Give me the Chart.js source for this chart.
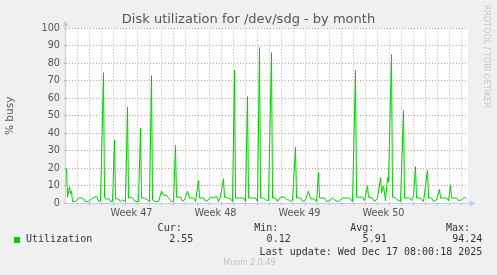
<!DOCTYPE html>
<html>
<head>
<meta charset="utf-8">
<script src="https://cdn.jsdelivr.net/npm/chart.js@4"></script>
<style>
  html, body { margin:0; padding:0; background:#f0f0f0; }
  #wrap { position:relative; width:497px; height:275px; overflow:hidden; background:#f0f0f0; }
  canvas { position:absolute; left:0; top:0; }
  .t { position:absolute; white-space:nowrap; }
  .mono { font-family:"DejaVu Sans Mono", monospace; font-size:10px; line-height:12px; color:#333; }
  .r { text-align:right; }
</style>
</head>
<body>
<div id="wrap">
  <canvas id="c" width="497" height="275"></canvas>
  <div class="t" id="title" style="left:0;width:497px;top:11px;text-align:center;font-family:'DejaVu Sans';font-size:13px;line-height:16px;color:#555;">Disk utilization for /dev/sdg - by month</div>
  <div class="t" style="left:481px;top:5px;writing-mode:vertical-rl;font-family:'DejaVu Sans';font-size:8px;line-height:10px;color:#c8c8c8;">RRDTOOL / TOBI OETIKER</div>
  <div id="legend"></div>
  <div class="t" style="left:0;width:497px;top:258px;text-align:center;font-family:'DejaVu Sans';font-size:8px;line-height:10px;color:#c0c0c0;padding-left:1px;">Munin 2.0.49</div>
</div>
<script>
// ---- data ----
const seriesName = "Utilization";
const hours = [-22,-20,-16,-14,-12,-10,-4,2,8,12,16,22,28,34,38,42,46,52,54,58,62,66,70,74,76,82,86,90,96,100,102,108,116,122,126,128,134,144,148,150,156,162,168,172,178,182,188,192,196,198,206,210,214,220,224,232,236,242,244,252,256,262,266,272,278,282,286,292,294,300,306,310,314,316,324,332,336,340,342,348,356,360,364,366,372,376,382,388,390,396,400,406,414,418,422,426,430,436,438,446,450,456,462,466,474,478,482,484,494,498,504,510,514,520,524,530,540,544,550,556,558,570,574,580,582,590,594,600,606,608,612,616,620,622,628,630,636,640,646,652,654,664,668,672,676,678,686,692,700,702,708,712,718,724,726,738,742,746,748,758,762,768,774,778];
const busy = [20,3.5,9.5,5.5,7,1,1,3,3,2.5,1,1,2.5,3.5,4,1,1.2,74.6,3.5,2,3,1,1,36,2.5,2.5,1,2,1,55,3,3.5,1,1,43,3,3,1,73,2,1,1,7,4.5,4.5,3,1,1,33,3.5,3.5,1,2,7,3,3,1,13,3,3,1,2,3.5,3,4,1,4,14,3.5,3,2.5,1,76,3,3,3,1,61,3,3,3,1,89,3,3,2,1.5,86,3,3,1,3.5,3.5,2,2,1,1.5,32,3,3,1,2,7,2.5,2.5,1,17.5,3,3,1,1.5,3,2,1,1.5,3,3,3,1,76,3.5,3.5,1.5,10,3.5,3,1,3,14.6,6,10,1.5,14.6,12,85,3.5,3,2,1,53,3,3,1.5,4.5,21,3,3,1,19,3,3,1,2,8,3,3,1.5,10.5,3,3,1.5,2,3.5,2.55];
const dayLines = [0,24,48,72,96,120,144,168,192,216,240,264,288,312,336,360,384,408,432,456,480,504,528,552,576,600,624,648,672,696,720,744,768];
const weekLines = [24,192,360,528,696];
const weekLabels = ["Week 47","Week 48","Week 49","Week 50"];
const weekCenters = [108,276,444,612];
const yTicks = [0,5,10,15,20,25,30,35,40,45,50,55,60,65,70,75,80,85,90,95,100];
const statHeads = ["Cur:","Min:","Avg:","Max:"];
const statVals = ["2.55","0.12","5.91","94.24"];
const lastUpdate = "Last update: Wed Dec 17 08:00:18 2025";

// ---- legend block (HTML text) ----
(function(){
  const lg = document.getElementById('legend');
  const headRight = [181.7, 278.3, 374.3, 470];
  const valRight = [193.3, 290.7, 386.7, 482.3];
  let h = '';
  h += '<div class="t" style="left:14px;top:237px;width:6px;height:6px;background:#00cc00;"></div>';
  h += '<div class="t mono" style="left:26px;top:233px;">' + seriesName + '</div>';
  statHeads.forEach((s,i)=>{ h += '<div class="t mono r" style="right:'+(497-headRight[i])+'px;top:221.5px;">'+s+'</div>'; });
  statVals.forEach((s,i)=>{ h += '<div class="t mono r" style="right:'+(497-valRight[i])+'px;top:233px;">'+s+'</div>'; });
  h += '<div class="t mono r" style="right:'+(497-482.3)+'px;top:245.5px;">'+lastUpdate+'</div>';
  lg.innerHTML = h;
})();

const RED = 'rgba(222,130,130,0.85)';
const GREY = 'rgba(175,175,175,0.9)';
const AXIS = '#c6c6ee';

const bgPlugin = {
  id:'bg',
  beforeDraw(chart){
    const {ctx, chartArea:a} = chart;
    ctx.save(); ctx.fillStyle = '#ffffff';
    ctx.fillRect(a.left, a.top, a.right-a.left, a.bottom-a.top);
    ctx.restore();
  },
  afterDraw(chart){
    const {ctx, chartArea:a} = chart;
    ctx.save();
    ctx.strokeStyle = AXIS; ctx.fillStyle = AXIS; ctx.lineWidth = 1;
    const x0 = Math.round(a.left)-0.5, y0 = Math.round(a.bottom)+0.5;
    ctx.beginPath(); ctx.moveTo(x0, y0); ctx.lineTo(x0, a.top-4); ctx.stroke();
    ctx.beginPath(); ctx.moveTo(x0, y0); ctx.lineTo(a.right+3, y0); ctx.stroke();
    ctx.beginPath(); ctx.moveTo(x0-3, a.top-2); ctx.lineTo(x0+3, a.top-2); ctx.lineTo(x0, a.top-7.5); ctx.closePath(); ctx.fill();
    ctx.beginPath(); ctx.moveTo(a.right+2, y0-3); ctx.lineTo(a.right+2, y0+3); ctx.lineTo(a.right+7.5, y0); ctx.closePath(); ctx.fill();
    ctx.restore();
  }
};

const pts = hours.map((h,i)=>({x:h, y:busy[i]}));

new Chart(document.getElementById('c'), {
  type:'line',
  data:{ datasets:[{ label:seriesName, data:pts, borderColor:'#00cc00', borderWidth:1, pointRadius:0, tension:0, fill:false }]},
  options:{
    responsive:false, animation:false, devicePixelRatio:1,
    layout:{ padding:{ left:0, top:28.3, right:29, bottom:50 } },
    plugins:{ legend:{display:false}, title:{display:false}, tooltip:{enabled:false} },
    scales:{
      x:{
        type:'linear', min:-23, max:781,
        afterBuildTicks(s){
          s.ticks = dayLines.map(v=>({value:v})).concat(weekCenters.map(v=>({value:v})));
        },
        afterFit(s){ s.height = 21.7; },
        ticks:{
          autoSkip:false, maxRotation:0, padding:2,
          color:'#555', font:{family:'DejaVu Sans', size:9.7},
          callback(v){ const i = weekCenters.indexOf(v); return i>=0 ? weekLabels[i] : ''; }
        },
        grid:{
          drawTicks:true, tickLength:2,
          color(ctx){ const v = ctx.tick && ctx.tick.value; if (weekCenters.includes(v)) return 'rgba(0,0,0,0)'; return weekLines.includes(v) ? RED : GREY; },
          tickColor(ctx){ const v = ctx.tick && ctx.tick.value; if (weekCenters.includes(v)) return 'rgba(0,0,0,0)'; return weekLines.includes(v) ? RED : GREY; }
        },
        border:{ display:false, dash:[1,2] }
      },
      y:{
        type:'linear', min:0, max:100,
        afterBuildTicks(s){ s.ticks = yTicks.map(v=>({value:v})); },
        afterFit(s){ s.width = 66; },
        title:{ display:true, text:'% busy', color:'#555', font:{family:'DejaVu Sans', size:10.5}, padding:{top:4,bottom:0} },
        ticks:{
          padding:4, color:'#555', font:{family:'DejaVu Sans', size:9.7},
          callback(v){ return v%10===0 ? String(v) : ''; }
        },
        grid:{
          drawTicks:true, tickLength:2,
          color(ctx){ const v = ctx.tick && ctx.tick.value; return v%10===0 ? RED : GREY; },
          tickColor(ctx){ const v = ctx.tick && ctx.tick.value; return v%10===0 ? RED : GREY; }
        },
        border:{ display:false, dash:[1,2] }
      }
    }
  },
  plugins:[bgPlugin]
});
</script>
</body>
</html>
